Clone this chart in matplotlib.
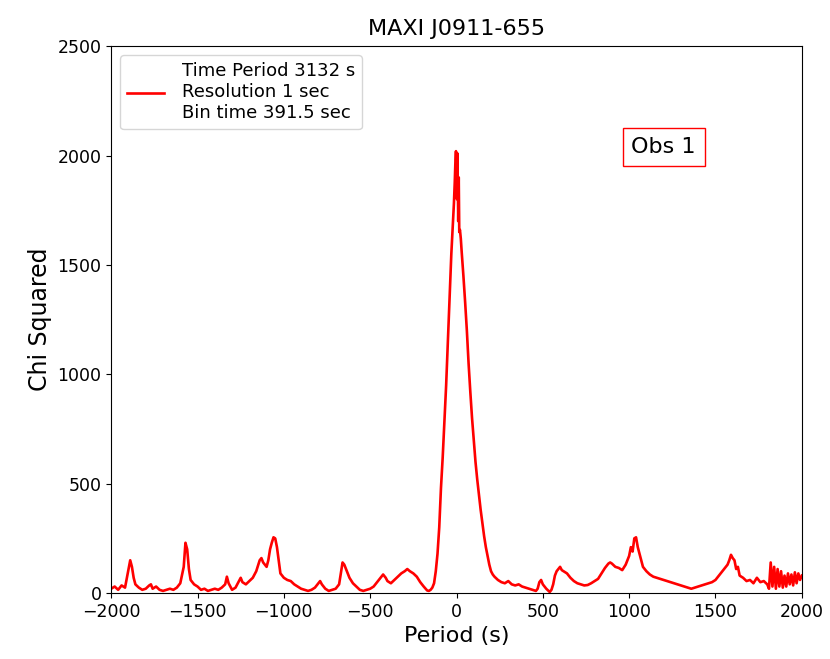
import matplotlib
matplotlib.use('Agg')
import matplotlib.pyplot as plt

# period grid (s) and chi-squared values
period = [
    -2000, -1980, -1960, -1940, -1920, -1900, -1890, -1880, -1870, -1860,
    -1840, -1820, -1800, -1780, -1770, -1760, -1740, -1720, -1700, -1680,
    -1660, -1640, -1620, -1600, -1580, -1570, -1560, -1550, -1540, -1520,
    -1500, -1480, -1460, -1440, -1420, -1400, -1380, -1360, -1340, -1330,
    -1320, -1300, -1280, -1260, -1250, -1240, -1220, -1200, -1180, -1160,
    -1140, -1130, -1120, -1110, -1100, -1090, -1080, -1070, -1060, -1050,
    -1040, -1030, -1020, -1000, -980, -960, -940, -920, -900, -880,
    -860, -840, -820, -800, -790, -780, -760, -740, -720, -700,
    -680, -670, -660, -650, -640, -630, -620, -600, -580, -560,
    -540, -520, -500, -480, -460, -440, -425, -410, -400, -380,
    -360, -340, -320, -300, -285, -270, -250, -230, -210, -190,
    -170, -160, -150, -140, -130, -120, -110, -100, -90, -80,
    -70, -60, -50, -40, -30, -20, -15, -10, -6, -3,
    0, 3, 5, 8, 10, 13, 16, 20, 25, 30,
    40, 50, 60, 70, 80, 90, 100, 110, 120, 130,
    140, 150, 160, 170, 180, 190, 200, 210, 220, 240,
    260, 280, 300, 320, 340, 360, 380, 400, 420, 440,
    460, 470, 480, 490, 500, 520, 540, 550, 560, 570,
    580, 590, 600, 610, 620, 640, 660, 680, 700, 720,
    740, 760, 780, 800, 820, 840, 860, 880, 890, 900,
    920, 940, 960, 980, 1000, 1010, 1020, 1030, 1040, 1050,
    1060, 1070, 1080, 1100, 1120, 1140, 1160, 1180, 1200, 1220,
    1240, 1260, 1280, 1300, 1320, 1340, 1360, 1380, 1400, 1420,
    1440, 1460, 1480, 1500, 1520, 1540, 1560, 1570, 1580, 1590,
    1600, 1610, 1620, 1630, 1640, 1660, 1680, 1700, 1720, 1740,
    1760, 1780, 1800, 1810, 1820, 1830, 1840, 1850, 1860, 1870,
    1880, 1890, 1900, 1910, 1920, 1930, 1940, 1950, 1960, 1970,
    1980, 1990, 2000,
]
chi2 = [
    20, 30, 15, 35, 25, 110, 150, 120, 70, 40,
    25, 15, 20, 35, 40, 20, 30, 15, 10, 15,
    20, 15, 25, 45, 120, 230, 200, 110, 60, 40,
    30, 15, 20, 10, 15, 20, 15, 25, 40, 75,
    45, 15, 25, 55, 70, 50, 40, 55, 70, 100,
    150, 160, 140, 130, 120, 150, 200, 230, 255, 250,
    210, 150, 90, 70, 60, 55, 40, 30, 20, 15,
    10, 15, 25, 45, 55, 40, 20, 10, 15, 20,
    40, 90, 140, 130, 110, 90, 70, 45, 30, 15,
    10, 15, 20, 30, 50, 70, 85, 70, 55, 45,
    60, 75, 90, 100, 110, 100, 90, 75, 50, 30,
    12, 10, 15, 25, 45, 100, 180, 300, 480, 620,
    780, 950, 1150, 1350, 1550, 1700, 1780, 1880, 1980, 2020,
    1950, 1800, 2010, 1850, 1700, 1900, 1650, 1660, 1620, 1560,
    1450, 1330, 1200, 1050, 920, 800, 700, 600, 520, 450,
    380, 320, 260, 210, 170, 130, 100, 85, 75, 60,
    50, 45, 55, 40, 35, 40, 30, 25, 20, 15,
    10, 20, 50, 60, 40, 20, 5, 15, 40, 80,
    100, 110, 120, 105, 100, 90, 70, 55, 45, 40,
    35, 37, 45, 55, 65, 90, 115, 135, 140, 135,
    120, 115, 105, 130, 170, 210, 190, 250, 255, 210,
    180, 150, 120, 100, 85, 75, 70, 65, 60, 55,
    50, 45, 40, 35, 30, 25, 20, 25, 30, 35,
    40, 45, 50, 60, 80, 100, 120, 130, 150, 175,
    160, 150, 110, 120, 80, 70, 55, 60, 45, 70,
    50, 55, 40, 20, 140, 30, 120, 20, 110, 30,
    100, 25, 80, 30, 90, 40, 85, 35, 95, 45,
    90, 60, 80,
]

legend_label = 'Time Period 3132 s\nResolution 1 sec\nBin time 391.5 sec'

fig, ax = plt.subplots(figsize=(8.3, 6.59), dpi=100)
fig.subplots_adjust(left=0.134, right=0.966, top=0.930, bottom=0.100)

ax.plot(period, chi2, color='red', linewidth=1.9, label=legend_label)

ax.set_xlim(-2000, 2000)
ax.set_ylim(0, 2500)
ax.set_title('MAXI J0911-655', fontsize=16, pad=8)
ax.set_xlabel('Period (s)', fontsize=16)
ax.set_ylabel('Chi Squared', fontsize=17)
ax.tick_params(labelsize=12.5)

ax.legend(loc='upper left', fontsize=13, handlelength=2, handletextpad=1.0)
ax.text(0.80, 0.815, 'Obs 1', transform=ax.transAxes, fontsize=16,
        ha='center', va='center',
        bbox=dict(facecolor='white', edgecolor='red', boxstyle='square,pad=0.4'))

fig.savefig('out.png', dpi=100)
